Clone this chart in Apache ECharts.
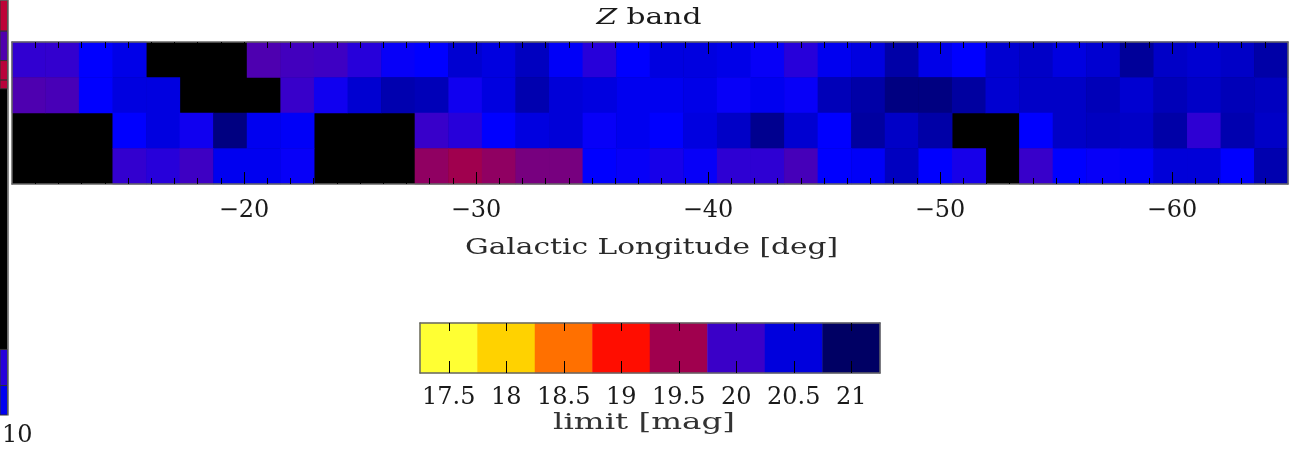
<!DOCTYPE html>
<html>
<head>
<meta charset="utf-8">
<script src="https://cdn.jsdelivr.net/npm/echarts@6/dist/echarts.min.js"></script>
<style>
  html, body { margin: 0; padding: 0; background: #fff; }
  #chart { width: 1291px; height: 457px; }
</style>
</head>
<body>
<div id="chart"></div>
<script>
// Galactic longitude bin centres [deg]: 38 bins spanning -10 ... -65
const longitudes = [
  -10.72, -12.17, -13.62, -15.07, -16.51, -17.96, -19.41, -20.86, -22.30, -23.75,
  -25.20, -26.64, -28.09, -29.54, -30.99, -32.43, -33.88, -35.33, -36.78, -38.22,
  -39.67, -41.12, -42.57, -44.01, -45.46, -46.91, -48.36, -49.80, -51.25, -52.70,
  -54.14, -55.59, -57.04, -58.49, -59.93, -61.38, -62.83, -64.28
];

// Latitude strips, listed from top to bottom
const latitudeRows = ['b1', 'b2', 'b3', 'b4'];

// Z-band limiting magnitude per cell (null = no coverage)
const limitRow1 = [
  20.04, 20.03, 20.25, 20.42, null, null, null, 19.90, 19.96, 19.98,
  20.08, 20.22, 20.25, 20.55, 20.48, 20.62, 20.30, 20.08, 20.25, 20.48,
  20.48, 20.42, 20.22, 20.08, 20.36, 20.48, 20.72, 20.42, 20.25, 20.55,
  20.59, 20.48, 20.55, 20.78, 20.59, 20.55, 20.59, 20.72
];
const limitRow2 = [
  19.90, 19.93, 20.25, 20.48, 20.48, null, null, null, 20.01, 20.18,
  20.55, 20.69, 20.65, 20.18, 20.48, 20.69, 20.52, 20.48, 20.36, 20.36,
  20.42, 20.22, 20.36, 20.22, 20.65, 20.72, 20.88, 20.88, 20.75, 20.55,
  20.59, 20.59, 20.65, 20.55, 20.65, 20.59, 20.65, 20.62
];
const limitRow3 = [
  null, null, null, 20.25, 20.48, 20.18, 20.88, 20.36, 20.30, null,
  null, null, 20.01, 20.08, 20.25, 20.48, 20.52, 20.22, 20.36, 20.25,
  20.48, 20.59, 20.82, 20.55, 20.25, 20.75, 20.59, 20.72, null, null,
  20.25, 20.59, 20.62, 20.59, 20.72, 20.05, 20.69, 20.59
];
const limitRow4 = [
  null, null, null, 20.03, 20.08, 19.98, 20.36, 20.36, 20.22, null,
  null, null, 19.58, 19.50, 19.58, 19.70, 19.70, 20.25, 20.22, 20.15,
  20.22, 20.05, 20.05, 19.94, 20.25, 20.30, 20.62, 20.25, 20.15, null,
  20.01, 20.25, 20.22, 20.30, 20.52, 20.52, 20.25, 20.69
];

// Colour-bar bins and their labels
const limitBins = [17.5, 18, 18.5, 19, 19.5, 20, 20.5, 21];
const limitBinLabels = ['17.5', '18', '18.5', '19', '19.5', '20', '20.5', '21'];

// Labelled longitude ticks [deg]
const majorLonTicks = [-20, -30, -40, -50, -60];

// Edge of the neighbouring panel: segment edges (0..100 along the strip) and magnitudes
const stripEdges = [0, 7.5, 14.6, 19.3, 21.4, 84.2, 92.9, 100];
const stripLimits = [19.35, 19.89, 19.37, 19.37, null, 20.08, 20.36];
const stripLabel = '10';

// ---------------------------------------------------------------------------

const FONT = 'DejaVu Serif';
const INK = '#1a1a1a';
const FRAME = '#666';
const TEXT_SIZE = 23;

// map frame and the degree scales laid over it
const MAP = { left: 12, top: 42, width: 1276, height: 142 };
const LON_FROM = -10, LON_TO = -65, MAJOR_STEP = 10;
const degPx = MAP.width / (LON_FROM - LON_TO);

// inner whole degrees (-11 ... -64), one band per degree centred on it
const lonInnerDegrees = [];
for (let d = LON_FROM - 1; d >= LON_TO + 1; d--) lonInnerDegrees.push(String(d));

// labelled degrees, one band of MAJOR_STEP degrees centred on each
const lonMajorLabels = majorLonTicks.map(String);
const majorStart = majorLonTicks[0] + MAJOR_STEP / 2;   // left edge of the first band [deg]

const rows = [limitRow1, limitRow2, limitRow3, limitRow4];
const cells = [];
rows.forEach((row, j) => row.forEach((v, i) => { if (v !== null) cells.push([i, j, v]); }));

const barCells = limitBins.map((v, i) => [i, 0, v]);

const stripData = [];
stripLimits.forEach((v, i) => {
  if (v !== null) stripData.push([0, stripEdges[i], stripEdges[i + 1], v]);
});

const lonLabel = v => (Number(v) < 0 ? '\u2212' + Math.abs(Number(v)) : String(v));

// horizontal stretch so a caption spans the wanted width
const measureCtx = document.createElement('canvas').getContext('2d');
function stretchFor(text, width, size) {
  measureCtx.font = (size || TEXT_SIZE) + 'px "' + FONT + '"';
  return width / measureCtx.measureText(text).width;
}

const frameLine = { show: true, lineStyle: { color: FRAME, width: 1.5 } };
const hiddenLine = { show: true, lineStyle: { color: '#000', width: 1, opacity: 0 } };
const tickStyle = { color: '#000', width: 1 };
const tickLabel = { fontFamily: FONT, fontSize: 24, color: INK };

function scaleAxis(gridIndex, data, position, length, labelled) {
  return {
    gridIndex: gridIndex, type: 'category', data: data, position: position,
    zlevel: 1, z: 10,
    axisLine: hiddenLine,
    axisTick: { show: true, inside: true, alignWithLabel: true, interval: 0, length: length, lineStyle: tickStyle },
    axisLabel: labelled
      ? Object.assign({ show: true, interval: 0, formatter: lonLabel, margin: 15 }, tickLabel)
      : { show: false },
    splitLine: { show: false }
  };
}

function frameAxis(gridIndex, position, data, inverse) {
  return {
    gridIndex: gridIndex, type: 'category', data: data, position: position, inverse: !!inverse,
    zlevel: 1, z: 10, axisLine: frameLine, axisTick: { show: false }, axisLabel: { show: false },
    splitLine: { show: false }
  };
}

const chart = echarts.init(document.getElementById('chart'), null, { renderer: 'canvas' });

chart.setOption({
  backgroundColor: '#fff',
  animation: false,
  visualMap: {
    type: 'continuous', show: false, seriesIndex: [0, 1, 2],
    min: 17.5, max: 21,
    inRange: {
      color: ['#ffff33', '#ffe81a', '#ffd200', '#ffa100', '#ff7000', '#ff3e00', '#ff0d00',
              '#d0062a', '#a0004e', '#6d008b', '#3a00c8', '#0000ff', '#0000dd', '#0000a0', '#000064']
    }
  },
  grid: [
    Object.assign({ show: true, backgroundColor: '#000', borderWidth: 0 }, MAP),
    { left: 420, top: 323, width: 460, height: 50, show: false },
    { left: -10, top: -10, width: 17.5, height: 425, show: true, backgroundColor: '#000', borderWidth: 0 },
    // one-degree scale over the inner degrees
    { left: MAP.left + degPx / 2, top: MAP.top, width: degPx * lonInnerDegrees.length,
      height: MAP.height, show: false },
    // ten-degree scale: bands from -15 to -65, centred on the labelled degrees
    { left: MAP.left + (LON_FROM - majorStart) * degPx, top: MAP.top,
      width: degPx * MAJOR_STEP * lonMajorLabels.length, height: MAP.height, show: false }
  ],
  xAxis: [
    // 0-2: map
    { gridIndex: 0, type: 'category', data: longitudes, show: false },
    frameAxis(0, 'bottom', longitudes),
    frameAxis(0, 'top', longitudes),
    // 3-4: colour bar
    {
      gridIndex: 1, type: 'category', data: limitBinLabels, position: 'bottom', zlevel: 1, z: 10,
      axisLine: frameLine,
      axisTick: { show: true, inside: true, alignWithLabel: true, interval: 0, length: 12, lineStyle: tickStyle },
      axisLabel: Object.assign({ interval: 0, margin: 13 }, tickLabel)
    },
    {
      gridIndex: 1, type: 'category', data: limitBinLabels, position: 'top', zlevel: 1, z: 10,
      axisLine: frameLine,
      axisTick: { show: true, inside: true, alignWithLabel: true, interval: 0, length: 8, lineStyle: tickStyle },
      axisLabel: { show: false }
    },
    // 5: neighbouring strip
    frameAxis(2, 'bottom', ['edge']),
    // 6-7: one-degree ticks
    scaleAxis(3, lonInnerDegrees, 'bottom', 6, false),
    scaleAxis(3, lonInnerDegrees, 'top', 6, false),
    // 8-9: ten-degree ticks and labels
    scaleAxis(4, lonMajorLabels, 'bottom', 12, true),
    scaleAxis(4, lonMajorLabels, 'top', 12, false)
  ],
  yAxis: [
    frameAxis(0, 'left', latitudeRows, true),
    frameAxis(0, 'right', latitudeRows, true),
    frameAxis(1, 'left', ['limit']),
    frameAxis(1, 'right', ['limit']),
    { gridIndex: 2, type: 'value', min: 0, max: 100, inverse: true, position: 'right', zlevel: 1, z: 10,
      axisLine: frameLine, axisTick: { show: false }, axisLabel: { show: false }, splitLine: { show: false } },
    { gridIndex: 3, type: 'category', data: ['scale'], show: false },
    { gridIndex: 4, type: 'category', data: ['scale'], show: false }
  ],
  series: [
    {
      name: 'Z band limit', type: 'heatmap', xAxisIndex: 0, yAxisIndex: 0, z: 1,
      data: cells, itemStyle: { borderWidth: 0 }, emphasis: { disabled: true }
    },
    {
      name: 'colour bar', type: 'heatmap', xAxisIndex: 3, yAxisIndex: 2, z: 1,
      data: barCells, itemStyle: { borderWidth: 0 }, emphasis: { disabled: true }
    },
    {
      name: 'neighbour edge', type: 'custom', xAxisIndex: 5, yAxisIndex: 4, z: 1,
      encode: { x: 0, y: [1, 2] },
      data: stripData,
      renderItem: function (params, api) {
        const a = api.coord([api.value(0), api.value(1)]);
        const b = api.coord([api.value(0), api.value(2)]);
        const w = api.size([1, 0])[0];
        return {
          type: 'rect',
          shape: { x: a[0] - w / 2, y: a[1], width: w, height: b[1] - a[1] },
          style: { fill: api.visual('color'), stroke: '#333', lineWidth: 1 }
        };
      }
    }
  ],
  graphic: [
    {
      type: 'text', x: 649, y: 18.5, scaleX: stretchFor('Z band', 105), zlevel: 1, z: 10,
      style: {
        text: '{z|Z} band', fontFamily: FONT, fontSize: TEXT_SIZE, fill: INK,
        align: 'center', verticalAlign: 'middle',
        rich: { z: { fontFamily: FONT, fontSize: TEXT_SIZE, fontStyle: 'italic', fill: INK } }
      }
    },
    {
      type: 'text', x: 651.5, y: 248.5, scaleX: stretchFor('Galactic Longitude [deg]', 373), zlevel: 1, z: 10,
      style: { text: 'Galactic Longitude [deg]', fontFamily: FONT, fontSize: TEXT_SIZE, fill: '#2a2a2a',
               align: 'center', verticalAlign: 'middle' }
    },
    {
      type: 'text', x: 644, y: 423.5, scaleX: stretchFor('limit [mag]', 182), zlevel: 1, z: 10,
      style: { text: 'limit [mag]', fontFamily: FONT, fontSize: TEXT_SIZE, fill: '#333',
               align: 'center', verticalAlign: 'middle' }
    },
    {
      type: 'text', x: 2, y: 436, zlevel: 1, z: 10,
      style: { text: stripLabel, fontFamily: FONT, fontSize: 24, fill: INK, align: 'left', verticalAlign: 'middle' }
    }
  ]
});
</script>
</body>
</html>
